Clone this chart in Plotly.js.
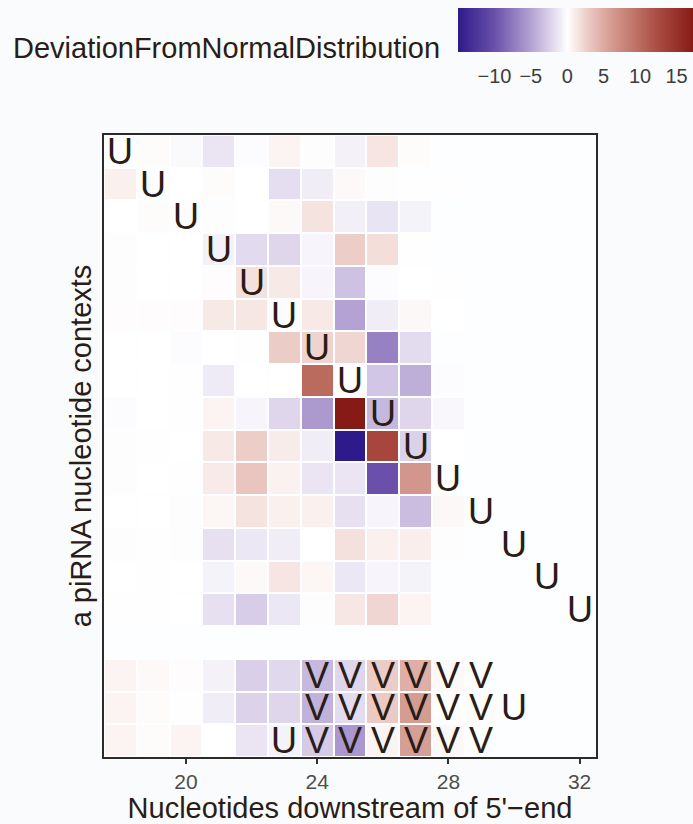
<!DOCTYPE html>
<html>
<head>
<meta charset="utf-8">
<script src="https://cdn.plot.ly/plotly-3.0.1.min.js"></script>
<style>html,body{margin:0;padding:0;background:#f9fbfd;}</style>
</head>
<body>
<div id="chart" style="width:693px;height:824px;"></div>
<script>
// Columns: nucleotide position downstream of 5'-end
const positions = [18, 19, 20, 21, 22, 23, 24, 25, 26, 27, 28, 29];
// Rows: piRNA nucleotide contexts (1 = top); row 16 is an empty spacer
const contexts = [1, 2, 3, 4, 5, 6, 7, 8, 9, 10, 11, 12, 13, 14, 15, 16, 17, 18, 19];
// Deviation from normal distribution per row (columns follow `positions`)
const deviation = [
  [0, 0.2, -0.3, -1.3, -0.2, 0.6, -0.1, -0.7, 1.4, 0.2, null, null],
  [0.8, 0.1, 0, 0.2, 0, -1.7, -0.9, 0.3, -0.1, 0.05, 0.05, null],
  [0, 0.2, 0.1, 0.1, 0, 0.3, 1.5, -0.8, -1.4, -0.6, null, null],
  [0.1, 0, 0, -0.7, -1.9, -2.1, -0.5, 2.7, 1.8, 0.05, null, null],
  [-0.1, 0, 0, 0.15, 1.6, 1.2, -0.5, -3.2, -0.2, 0, -0.05, null],
  [0.15, 0.15, 0.15, 1.2, 1.3, -0.2, 1.2, -5, -0.9, 0.4, 0, null],
  [0, 0, -0.2, 0, 0.05, 2.8, 2.4, 2.2, -7, -1.8, null, null],
  [0, 0, -0.05, -1.0, 0, 0, 10, -0.1, -3, -4.3, -0.2, null],
  [-0.2, 0, -0.05, 0.6, -0.5, -2.1, -5.5, 17.4, -3.8, -2.1, -0.4, null],
  [-0.1, -0.05, 0, 1.2, 2.7, 1.0, -0.9, -15, 13, -2.4, 0, null],
  [-0.1, 0, -0.05, 1.1, 3.2, 0.7, -1.3, -1.3, -10, 6.5, null, null],
  [0, 0, 0.1, 0.5, 1.5, 0.8, 0.8, -1.6, -0.5, -3.5, 0.4, null],
  [-0.1, -0.05, -0.1, -1.6, -1.2, -0.9, 0, 1.6, 0.8, 0.9, -0.1, null],
  [0, 0.05, 0, -0.6, 0.3, 1.4, 0.5, -1.2, -0.5, -0.6, null, null],
  [0.05, 0.05, 0, -1.6, -2.6, -1.2, -0.1, 1.3, 2.2, 0.6, null, null],
  [null, null, null, null, null, null, null, null, null, null, null, null],
  [0.6, 0.3, 0.15, -0.7, -2.5, -2.0, -3.7, -2.1, 2.8, 4.7, 0.3, null],
  [0.6, 0.2, 0.05, -0.9, -2.3, -2.1, -4.1, -1.8, 2.9, 6.0, 0, 0.2],
  [0.6, 0.2, 0.6, 0, -1.3, -0.6, -2.7, -5.7, 0.6, 5.8, 0.35, null]
];
// Nucleotide letters drawn in cells
const labelX = [18, 19, 20, 21, 22, 23, 24, 25, 26, 27, 28, 29, 30, 31, 32,
                24, 25, 26, 27, 28, 29,
                24, 25, 26, 27, 28, 29, 30,
                23, 24, 25, 26, 27, 28, 29];
const labelY = [1, 2, 3, 4, 5, 6, 7, 8, 9, 10, 11, 12, 13, 14, 15,
                17, 17, 17, 17, 17, 17,
                18, 18, 18, 18, 18, 18, 18,
                19, 19, 19, 19, 19, 19, 19];
const labelText = ["U","U","U","U","U","U","U","U","U","U","U","U","U","U","U",
                   "V","V","V","V","V","V",
                   "V","V","V","V","V","V","U",
                   "U","V","V","V","V","V","V"];
const xTicks = [20, 24, 28, 32];
const colorTicks = [-10, -5, 0, 5, 10, 15];

const zMin = -15, zMax = 17.4;
const stop = v => (v - zMin) / (zMax - zMin);
const colorscale = [
  [0, '#2e1a8a'],
  [stop(-10), '#6a50aa'],
  [stop(-5), '#b3a2d3'],
  [stop(-2.5), '#d9cfe9'],
  [stop(-1), '#efebf6'],
  [stop(0), '#ffffff'],
  [stop(1.5), '#f5e3e0'],
  [stop(3), '#ebc8c2'],
  [stop(6), '#d59c92'],
  [stop(10), '#bb6a5e'],
  [stop(13), '#a6463c'],
  [1, '#861a14']
];

const PW = 492, PH = 622, ML = 104, MT = 135;
const FONT = 'Liberation Sans, Arial, sans-serif';
const heat = {
  type: 'heatmap',
  x: positions,
  y: contexts,
  z: deviation,
  zmin: zMin, zmax: zMax,
  colorscale: colorscale,
  xgap: 2, ygap: 2,
  hoverongaps: false,
  colorbar: {
    orientation: 'h',
    x: (458 - ML) / PW, xanchor: 'left',
    y: (MT + PH - 8) / PH, yanchor: 'top',
    len: 236, lenmode: 'pixels',
    thickness: 44, thicknessmode: 'pixels',
    outlinewidth: 0, xpad: 0, ypad: 0,
    tickvals: colorTicks,
    ticks: 'outside', ticklen: 7, tickcolor: 'rgba(0,0,0,0)', tickwidth: 1,
    tickfont: {family: FONT, size: 20, color: '#3d3d3d'}
  }
};

const letterAnnotations = labelText.map((t, i) => ({
  text: t, x: labelX[i], y: labelY[i], xref: 'x', yref: 'y',
  showarrow: false, xanchor: 'center', yanchor: 'middle', yshift: 0,
  font: {family: FONT, size: 36, color: '#2a1c16'}
}));

const layout = {
  width: 693, height: 824,
  margin: {l: ML, r: 693 - ML - PW, t: MT, b: 824 - MT - PH, autoexpand: false},
  paper_bgcolor: '#f9fbfd',
  plot_bgcolor: '#fdfeff',
  showlegend: false,
  font: {family: FONT, color: '#2a1c16'},
  xaxis: {
    range: [17.5, 32.5],
    tickvals: xTicks,
    ticks: 'outside', ticklen: 5, tickcolor: '#333333', tickwidth: 1.5,
    tickfont: {size: 21, color: '#4d4d4d'},
    showgrid: false, zeroline: false, automargin: false,
    showline: true, mirror: true, linecolor: '#2e2a27', linewidth: 2,
    title: {text: "Nucleotides downstream of 5'\u2212end", font: {size: 29, color: '#2a1c16'}, standoff: 6}
  },
  yaxis: {
    range: [19.5, 0.5],
    showticklabels: false, ticks: '',
    showgrid: false, zeroline: false, automargin: false,
    showline: true, mirror: true, linecolor: '#2e2a27', linewidth: 2,
    title: {text: 'a piRNA nucleotide contexts', font: {size: 29, color: '#2a1c16'}, standoff: 2}
  },
  annotations: [{
    text: 'DeviationFromNormalDistribution',
    xref: 'paper', yref: 'paper',
    x: (442 - ML) / PW, xanchor: 'right',
    y: (MT + PH - 48) / PH, yanchor: 'middle',
    showarrow: false,
    font: {size: 29, color: '#2a1c16'}
  }].concat(letterAnnotations)
};

Plotly.newPlot('chart', [heat], layout, {displayModeBar: false});
</script>
</body>
</html>
